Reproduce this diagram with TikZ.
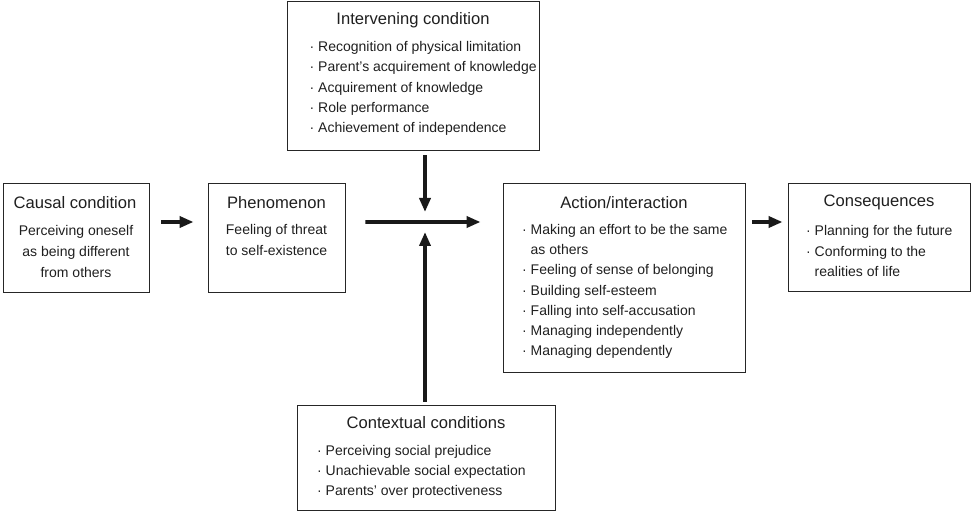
\documentclass[tikz,border=0pt]{standalone}
\usepackage{fontspec}
\setmainfont{Liberation Sans}
\usetikzlibrary{arrows.meta}
\newcommand{\itm}{\makebox[8.5bp][l]{·}}
\begin{document}
\begin{tikzpicture}[x=1bp,y=-1bp,
  box/.style={draw=black!85,line width=0.9bp,inner sep=0pt},
  ttl/.style={font=\fontsize{16.6bp}{19bp}\selectfont,text=black!88,inner sep=0pt},
  body/.style={font=\fontsize{14bp}{21bp}\selectfont,text=black!88,inner sep=0pt,align=center},
  lst/.style={font=\fontsize{14bp}{20.2bp}\selectfont,text=black!88,inner sep=0pt,align=left,anchor=west},
  arr/.style={line width=3.6bp,black!90,-{Triangle[length=14bp,width=11bp]}}]
\useasboundingbox (0,0) rectangle (972,512);
% boxes
\node[box,minimum width=146bp,minimum height=109bp] (causal) at (76,237.5) {};
\node[box,minimum width=137bp,minimum height=109bp] (phen) at (276.5,237.5) {};
\node[box,minimum width=252bp,minimum height=149bp] (interv) at (413,75.5) {};
\node[box,minimum width=242bp,minimum height=189bp] (action) at (624,277.5) {};
\node[box,minimum width=182bp,minimum height=108bp] (conseq) at (879,237) {};
\node[box,minimum width=258bp,minimum height=105bp] (context) at (426,457.5) {};
% titles
\node[ttl] (tcausal) at (75,203) {Causal condition};
\node[ttl] (tphen) at (276.5,203) {Phenomenon};
\node[ttl] (tinterv) at (413,20) {Intervening condition};
\node[ttl] (taction) at (624,203) {Action/interaction};
\node[ttl] (tconseq) at (879,202) {Consequences};
\node[ttl] (tcontext) at (426,423) {Contextual conditions};
% bodies
\node[body] (bcausal) at (76,251) {Perceiving oneself\\as being different\\from others};
\node[body] (bphen) at (276.5,240) {Feeling of threat\\to self-existence};
\node[lst] (linterv) at (309.5,88.5) {\itm Recognition of physical limitation\\\itm Parent’s acquirement of knowledge\\\itm Acquirement of knowledge\\\itm Role performance\\\itm Achievement of independence};
\node[lst] (laction) at (522,291.5) {\itm Making an effort to be the same\\\hspace*{8.5bp}as others\\\itm Feeling of sense of belonging\\\itm Building self-esteem\\\itm Falling into self-accusation\\\itm Managing independently\\\itm Managing dependently};
\node[lst] (lconseq) at (806,251) {\itm Planning for the future\\\itm Conforming to the\\\hspace*{8.5bp}realities of life};
\node[lst] (lcontext) at (317,472) {\itm Perceiving social prejudice\\\itm Unachievable social expectation\\\itm Parents’ over protectiveness};
% connectors
\coordinate (j) at (425,222);
\draw[arr] ([xshift=12bp,yshift=15.5bp]causal.east) -- ([xshift=-14bp,yshift=15.5bp]phen.west);
\draw[arr] ([xshift=20bp,yshift=15.5bp]phen.east) -- ([xshift=-22bp,yshift=55.5bp]action.west);
\draw[arr] ([yshift=-5bp]interv.south -| j) -- ([yshift=10bp]j);
\draw[arr] ([yshift=3bp]context.north -| j) -- ([yshift=-10bp]j);
\draw[arr] ([xshift=7bp,yshift=15bp]conseq.west -| action.east) -- ([xshift=-5bp,yshift=15bp]conseq.west);
\end{tikzpicture}
\end{document}
